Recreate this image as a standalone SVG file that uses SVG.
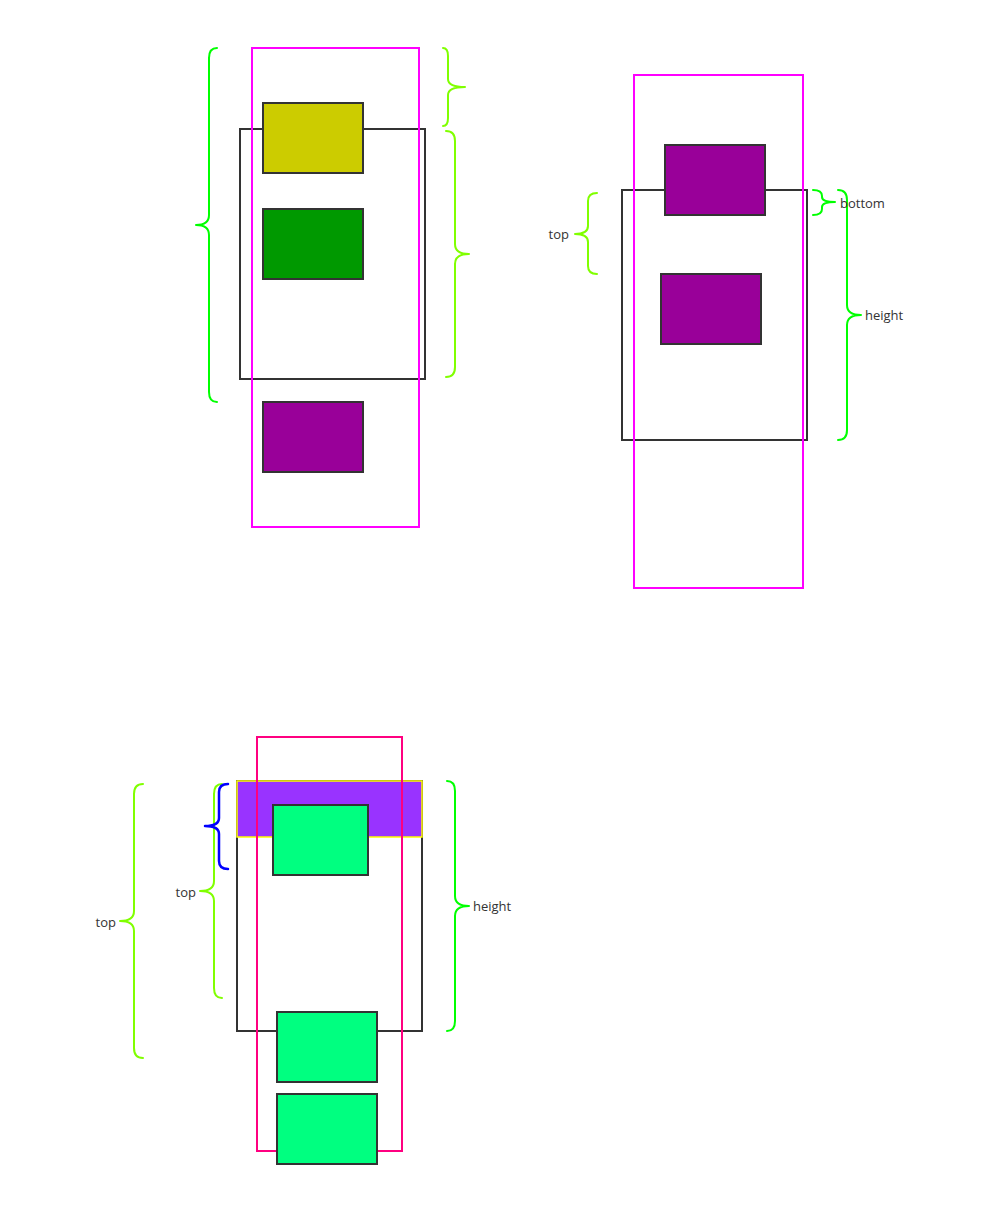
<svg xmlns="http://www.w3.org/2000/svg" width="1005" height="1226" viewBox="0 0 1005 1226">
<style>
.box{fill:none;stroke:#333;stroke-width:2}
.blk{stroke:#333;stroke-width:2}
.mag{fill:none;stroke:#ff00ff;stroke-width:2}
.pink{fill:none;stroke:#ff0080;stroke-width:2}
.br{fill:none;stroke-width:2;stroke-linecap:round;stroke-linejoin:round}
.g{stroke:#00ff00}
.l{stroke:#80ff00}
.b{stroke:#0000ff;stroke-width:2.5}
text{font-family:"Open Sans","DejaVu Sans",sans-serif;font-size:13px;fill:#333}
</style>
<rect width="1005" height="1226" fill="#ffffff"/>

<!-- Diagram 1 -->
<g id="d1-container"><rect class="box" x="240" y="129" width="185" height="250"/></g>
<g id="d1-yellow"><rect class="blk" x="263" y="103" width="100" height="70" fill="#cccc00"/></g>
<g id="d1-green"><rect class="blk" x="263" y="209" width="100" height="70" fill="#009900"/></g>
<g id="d1-purple"><rect class="blk" x="263" y="402" width="100" height="70" fill="#990099"/></g>
<g id="d1-magenta"><rect class="mag" x="252" y="48" width="167" height="479"/></g>

<!-- Diagram 2 -->
<g id="d2-container"><rect class="box" x="622" y="190" width="185" height="250"/></g>
<g id="d2-purple1"><rect class="blk" x="665" y="145" width="100" height="70" fill="#990099"/></g>
<g id="d2-purple2"><rect class="blk" x="661" y="274" width="100" height="70" fill="#990099"/></g>
<g id="d2-magenta"><rect class="mag" x="634" y="75" width="169" height="513"/></g>

<!-- Diagram 3 -->
<g id="d3-container"><rect class="box" x="237" y="781" width="185" height="250"/></g>
<g id="d3-band"><rect x="237" y="781" width="185" height="56" fill="#9933ff" stroke="#ffff00" stroke-width="1.5"/></g>
<g id="d3-pink"><rect class="pink" x="257" y="737" width="145" height="414"/></g>
<g id="d3-green1"><rect class="blk" x="273" y="805" width="95" height="70" fill="#00ff80"/></g>
<g id="d3-green2"><rect class="blk" x="277" y="1012" width="100" height="70" fill="#00ff80"/></g>
<g id="d3-green3"><rect class="blk" x="277" y="1094" width="100" height="70" fill="#00ff80"/></g>

<g id="connectors">
  <!-- Diagram 1 braces -->
  <path class="br g" d="M217,48 Q209,48 209,58 L209,215 Q209,225 196,225 Q209,225 209,235 L209,392 Q209,402 217,402"/>
  <path class="br l" d="M443,48 Q448,48 448,56 L448,79 Q448,87 465,87 Q448,87 448,95 L448,118 Q448,126 443,126"/>
  <path class="br l" d="M446,131 Q455,131 455,141 L455,244 Q455,254 469,254 Q455,254 455,264 L455,367 Q455,377 446,377"/>
  <!-- Diagram 2 braces -->
  <path class="br l" d="M597,193 Q588,193 588,201 L588,226 Q588,234 575,234 Q588,234 588,242 L588,266 Q588,274 597,274"/>
  <path class="br g" stroke-width="2.5" d="M813,190 Q822,190 822,196 L822,197 Q822,202 835,202 Q822,202 822,207 L822,209 Q822,215 813,215"/>
  <path class="br g" d="M838,190 Q847,190 847,200 L847,305 Q847,315 861,315 Q847,315 847,325 L847,430 Q847,440 838,440"/>
  <!-- Diagram 3 braces -->
  <path class="br l" d="M143,784 Q134,784 134,794 L134,911 Q134,921 120,921 Q134,921 134,931 L134,1048 Q134,1058 143,1058"/>
  <path class="br l" d="M222,784 Q214,784 214,794 L214,881 Q214,891 200,891 Q214,891 214,901 L214,988 Q214,998 222,998"/>
  <path class="br b" d="M228,784 Q219,784 219,792 L219,818 Q219,826 205,826 Q219,826 219,834 L219,861 Q219,869 228,869"/>
  <path class="br g" d="M447,781 Q455,781 455,791 L455,896 Q455,906 469,906 Q455,906 455,916 L455,1021 Q455,1031 447,1031"/>
</g>

<g id="labels">
  <text x="569" y="239" text-anchor="end">top</text>
  <text x="840" y="208">bottom</text>
  <text x="865" y="320">height</text>
  <text x="196" y="897" text-anchor="end">top</text>
  <text x="116" y="927" text-anchor="end">top</text>
  <text x="473" y="911">height</text>
</g>
</svg>
